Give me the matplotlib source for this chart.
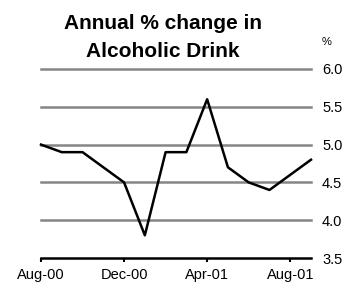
import matplotlib
matplotlib.use("Agg")
import matplotlib.pyplot as plt

plt.rcParams["font.family"] = ["Liberation Sans", "DejaVu Sans"]

# monthly series, Aug-00 .. Sep-01
months = ["Aug-00", "Sep-00", "Oct-00", "Nov-00", "Dec-00", "Jan-01", "Feb-01",
          "Mar-01", "Apr-01", "May-01", "Jun-01", "Jul-01", "Aug-01", "Sep-01"]
values = [5.0, 4.9, 4.9, 4.7, 4.5, 3.8, 4.9, 4.9, 5.6, 4.7, 4.5, 4.4, 4.6, 4.8]
tick_labels = ["Aug-00", "Dec-00", "Apr-01", "Aug-01"]
y_ticks = [3.5, 4.0, 4.5, 5.0, 5.5, 6.0]

fig = plt.figure(figsize=(3.57, 2.89), dpi=100)
ax = fig.add_axes([41 / 357, 1 - 258 / 289, 270 / 357, 189 / 289])

x = list(range(len(months)))
for yv in y_ticks[1:]:
    ax.axhline(yv, color="#858585", lw=1.8, zorder=1, clip_on=False)
ax.plot(x, values, color="black", lw=1.8, zorder=3, clip_on=False)

ax.set_xlim(0, len(months) - 1)
ax.set_ylim(3.5, 6.0)

ax.set_xticks([months.index(m) for m in tick_labels])
ax.set_xticklabels(tick_labels)
ax.set_yticks(y_ticks)
ax.set_yticklabels([f"{v:.1f}" for v in y_ticks])

ax.yaxis.tick_right()
ax.tick_params(axis="y", length=0, pad=8, labelsize=10.5)
ax.tick_params(axis="x", length=3, width=1.5, direction="out", pad=4, labelsize=10.5)

for s in ["top", "left", "right"]:
    ax.spines[s].set_visible(False)
ax.spines["bottom"].set_linewidth(1.8)
ax.spines["bottom"].set_zorder(4)

fig.text(163 / 357, 1 - 29 / 289, "Annual % change in", ha="center", va="baseline",
         fontsize=15, fontweight="bold")
fig.text(163 / 357, 1 - 57 / 289, "Alcoholic Drink", ha="center", va="baseline",
         fontsize=15, fontweight="bold")
fig.text(327 / 357, 1 - 42 / 289, "%", ha="center", va="center", fontsize=8)

fig.savefig("out.png", dpi=100)
